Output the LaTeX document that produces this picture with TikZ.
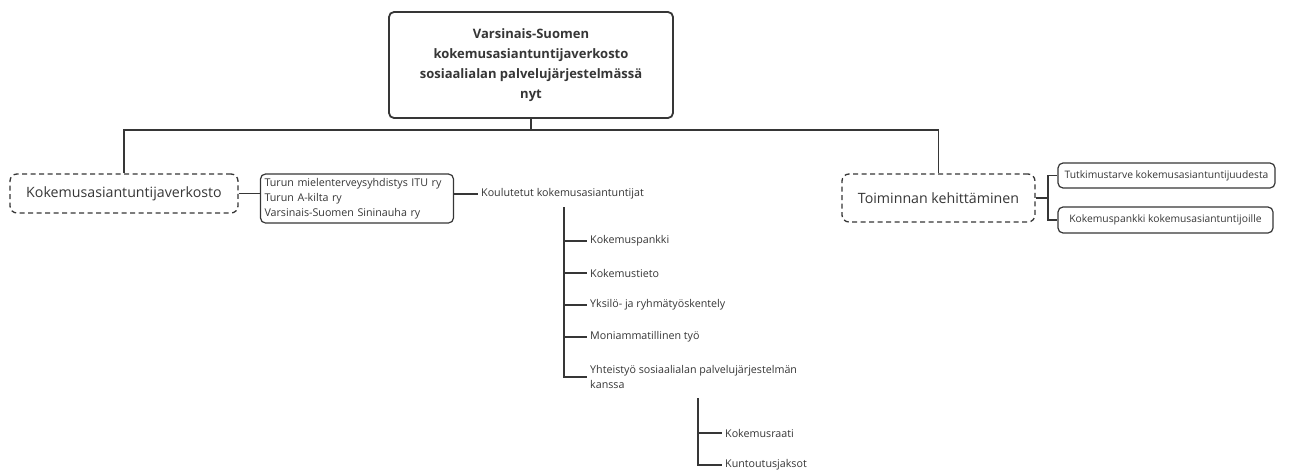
\documentclass[tikz,border=0pt]{standalone}
\usepackage{fontspec}
\setmainfont{Open Sans}
\definecolor{ink}{HTML}{363636}
\begin{document}
\begin{tikzpicture}
        [x=1pt, y=-1pt, text=ink, font=\fontsize{10.7}{15}\selectfont,
         rootbox/.style={rectangle, rounded corners=5pt, draw=ink, line width=1.8pt, align=center, font=\fontsize{13}{20}\selectfont\bfseries},
         topicbox/.style={rectangle, rounded corners=7pt, draw=ink, line width=1.3pt, dash pattern=on 5pt off 3.5pt, font=\fontsize{14.2}{17}\selectfont},
         leafbox/.style={rectangle, rounded corners=5pt, draw=ink, line width=1.2pt, align=left, inner sep=4pt},
         sidebox/.style={leafbox, inner xsep=3pt, font=\fontsize{10.3}{14}\selectfont},
         leaf/.style={inner sep=3pt, align=left, anchor=west},
         link/.style={draw=ink, line width=1.7pt}]

        \useasboundingbox (0, 0) rectangle (1291, 469);

        \node[rootbox, minimum width=284pt, minimum height=106pt] (root) at (531, 65) {Varsinais-Suomen\\kokemusasiantuntijaverkosto\\sosiaalialan palvelujärjestelmässä\\nyt};

        \node[topicbox, minimum width=228pt, minimum height=39pt] (verkosto) at (124, 193.5) {Kokemusasiantuntijaverkosto};
        \node[topicbox, minimum width=193pt, minimum height=48pt] (kehitys) at (938.5, 198) {Toiminnan kehittäminen};

        \node[leafbox, text width=185pt, minimum height=49pt] (jarjestot) at (357, 198.5) {Turun mielenterveysyhdistys ITU ry\\Turun A-kilta ry\\Varsinais-Suomen Sininauha ry};
        \node[leaf] (koulutetut) at (478, 194) {Koulutetut kokemusasiantuntijat};

        \node[leaf] (pankki) at (587, 241) {Kokemuspankki};
        \node[leaf] (tieto) at (587, 273) {Kokemustieto};
        \node[leaf] (yksilo) at (587, 305) {Yksilö- ja ryhmätyöskentely};
        \node[leaf] (moni) at (587, 337) {Moniammatillinen työ};
        \node[leaf] (yhteistyo) at (587, 377) {Yhteistyö sosiaalialan palvelujärjestelmän\\kanssa};

        \node[leaf] (raati) at (722, 433) {Kokemusraati};
        \node[leaf] (jaksot) at (722, 465) {Kuntoutusjaksot};

        \node[sidebox, minimum width=217pt, minimum height=25pt] (tutkimus) at (1166.5, 175.5) {Tutkimustarve kokemusasiantuntijuudesta};
        \node[sidebox, minimum width=215pt, minimum height=26pt] (pankki2) at (1165.5, 220) {Kokemuspankki kokemusasiantuntijoille};

        \coordinate (bus) at (root |- 0, 130);
        \coordinate (kjoint) at (564, 207);
        \coordinate (yjoint) at (698, 398);

        % puun runko
        \draw[link] (root) -- (bus);
        \draw[link] (verkosto) |- (bus) -| (kehitys);

        \draw[link] (verkosto.east) -- (verkosto.east -| jarjestot.west);
        \draw[link] (jarjestot.east |- koulutetut) -- (koulutetut.west);

        \draw[link] (kjoint) |- (pankki.west);
        \draw[link] (kjoint) |- (tieto.west);
        \draw[link] (kjoint) |- (yksilo.west);
        \draw[link] (kjoint) |- (moni.west);
        \draw[link] (kjoint) |- (yhteistyo.west);

        \draw[link] (yjoint) |- (raati.west);
        \draw[link] (yjoint) |- (jaksot.west);

        \draw[link] (kehitys.east) -- ++(12, 0) coordinate (fork);
        \draw[link] (fork) |- (tutkimus.west);
        \draw[link] (fork) |- (pankki2.west);
    \end{tikzpicture}
\end{document}
